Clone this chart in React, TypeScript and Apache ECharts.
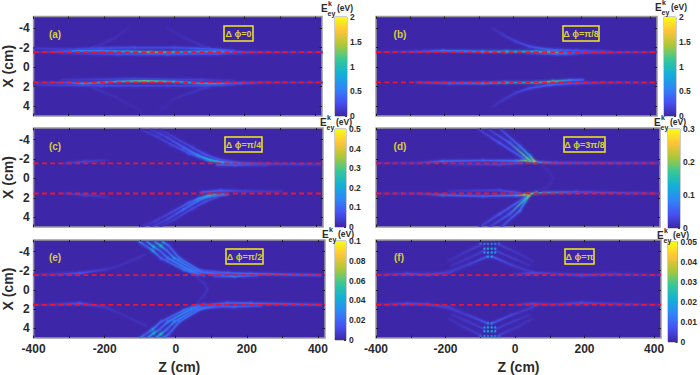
import React, { useEffect, useRef } from "react";
import * as echarts from "echarts";

const zTicks = [-400, -300, -200, -100, 0, 100, 200, 300, 400];
const zLabels = [-400, -200, 0, 200, 400];
const xTicks = [-4, -2, 0, 2, 4];
const redLine = [-1.55, 1.55];
const parula = ["#3e26a8", "#4752f4", "#2e87f7", "#12b1d6", "#37c897", "#abc739", "#fec338", "#f9fb14"];

const barTicksA = [0, 0.5, 1, 1.5, 2];
const barTicksB = [0, 0.5, 1, 1.5, 2];
const barTicksC = [0, 0.1, 0.2, 0.3, 0.4, 0.5];
const barTicksD = [0, 0.1, 0.2, 0.3];
const barTicksE = [0, 0.02, 0.04, 0.06, 0.08, 0.1];
const barTicksF = [0, 0.01, 0.02, 0.03, 0.04, 0.05];

// each streak: [Z, X, energy]
const streaksA = [
  [[-400,-1.55,.08],[-330,-1.6,.25],[-273,-1.68,.6],[-207,-1.68,.5],[-132,-1.6,.8],[-66,-1.54,1.2],[0,-1.54,.9],[76,-1.6,.65],[132,-1.62,.75],[188,-1.52,.3],[264,-1.52,.14],[420,-1.52,.1]],
  [[-400,-1.95,.12],[-300,-1.8,.16],[-226,-1.95,.24],[-113,-2,.24],[0,-2,.24],[95,-1.88,.32],[170,-1.68,.25]],
  [[-320,-1.43,.1],[-160,-1.33,.25],[-19,-1.33,.3],[122,-1.37,.25],[188,-1.43,.1]],
  [[-226,-2,.1],[-170,-3,.05],[-130,-4,.025]],
  [[95,-1.95,.12],[30,-3,.05],[-20,-4,.025]],
  [[-400,1.6,.1],[-300,1.57,.3],[-260,1.67,.7],[-160,1.47,.8],[-85,1.4,1.25],[0,1.47,.9],[76,1.64,.75],[132,1.71,.7],[188,1.64,.3],[264,1.57,.14],[420,1.57,.1]],
  [[-400,1.8,.12],[-207,1.9,.24],[-19,1.9,.2],[95,1.9,.24],[170,1.71,.16]],
  [[-320,1.3,.1],[-113,1.2,.2],[76,1.3,.16],[170,1.4,.08]],
  [[-235,2,.1],[-170,3,.05],[-95,4.5,.025]],
  [[95,2,.12],[0,3.2,.05],[-40,4.5,.025]],
];
const streaksB = [
  [[-400,-1.55,.05],[-282,-1.6,.2],[-204,-1.68,.45],[-88,-1.6,.6],[-20,-1.6,.8],[68,-1.6,.9],[117,-1.54,1.15],[155,-1.44,.6],[204,-1.5,.25],[418,-1.54,.12]],
  [[-59,-4,.06],[-29,-3.3,.12],[9,-2.63,.18],[48,-2.12,.24],[107,-1.78,.42],[185,-1.71,.28],[282,-1.6,.14]],
  [[39,-1.44,.16],[126,-1.37,.36],[185,-1.37,.16]],
  [[-282,1.57,.2],[-185,1.64,.35],[-88,1.64,.5],[-20,1.57,.7],[68,1.57,.85],[117,1.47,1.15],[165,1.33,.5],[204,1.3,.3]],
  [[-59,4.03,.06],[-29,3.35,.11],[9,2.6,.16],[48,2.15,.24],[107,1.81,.35],[185,1.64,.28],[303,1.57,.14],[418,1.64,.08]],
];
const streaksC = [
  [[-95,-5,.02],[-75,-4.7,.03],[-55,-4.4,.035],[-10,-3.5,.05],[40,-2.6,.07],[90,-1.95,.11],[130,-1.65,.15]],
  [[-67,-5,.03],[-45,-4.65,.04],[-20,-4.2,.05],[25,-3.2,.09],[65,-2.4,.14],[100,-1.9,.22],[135,-1.68,.18],[175,-1.6,.1]],
  [[-43,-5,.02],[-20,-4.6,.03],[0,-4.2,.035],[50,-3.2,.055],[85,-2.5,.07],[120,-2,.07],[165,-1.7,.06]],
  [[175,-1.6,.1],[260,-1.5,.05],[410,-1.45,.03]],
  [[120,-1.42,.1],[170,-1.4,.08],[260,-1.42,.04]],
  [[-310,-1.6,.03],[-254,-1.75,.05],[-190,-1.88,.02]],
  [[-95,5,.02],[-55,4.4,.035],[-10,3.5,.05],[40,2.5,.08],[70,2.05,.13],[100,1.7,.24],[140,1.6,.12]],
  [[-67,5,.03],[-20,4.2,.05],[25,3.2,.09],[65,2.3,.12],[95,1.85,.16],[150,1.65,.1]],
  [[-43,5,.02],[0,4.2,.035],[50,3.1,.055],[85,2.4,.06],[120,1.9,.06]],
  [[75,1.42,.08],[130,1.25,.08],[200,1.3,.04],[300,1.35,.025]],
  [[-310,1.55,.03],[-254,1.7,.045],[-190,1.9,.015]],
];
const streaksD = [
  [[-400,-1.6,.012],[-280,-1.6,.018],[-207,-1.78,.06],[-91,-1.85,.05],[5,-1.81,.07],[34,-1.88,.2],[63,-1.68,.1],[121,-1.6,.04],[418,-1.6,.022]],
  [[-190,-1.44,.012],[-43,-1.44,.03],[24,-1.6,.04]],
  [[-101,-5,.02],[-43,-3.66,.04],[24,-2.12,.05],[40,-1.85,.09]],
  [[-72,-5,.02],[-14,-3.66,.05],[44,-1.88,.18]],
  [[-38,-5,.03],[15,-3.32,.06],[45,-2.3,.11],[58,-1.72,.24]],
  [[63,-1.6,.006],[90,-1,.007],[104,-.5,.007],[111,0,.007],[104,.5,.007],[90,1,.007],[63,1.55,.006]],
  [[-400,1.55,.012],[-280,1.55,.018],[-207,1.71,.06],[-91,1.81,.05],[5,1.74,.08],[34,1.67,.22],[63,1.47,.12],[178,1.4,.04],[418,1.55,.022]],
  [[-190,1.3,.012],[-43,1.23,.03],[15,1.47,.04]],
  [[-101,5,.02],[-43,3.66,.04],[24,2.12,.05],[34,1.75,.09]],
  [[-72,5,.02],[-14,3.66,.05],[40,1.8,.17]],
  [[-38,5,.03],[15,3.32,.06],[30,2.4,.09],[42,1.75,.2]],
];
const streaksE = [
  [[-101,-5,.03],[-85,-4.6,.012],[-65,-4.1,.03],[-41,-3.3,.016],[24,-2.1,.022],[62,-1.55,.016]],
  [[-80,-5,.025],[-62,-4.5,.042],[-45,-4.1,.016],[-22,-3.3,.025],[43,-2,.028],[80,-1.5,.016]],
  [[-58,-5,.025],[-42,-4.6,.045],[-25,-4.1,.018],[-4,-3.3,.028],[57,-2,.022],[108,-1.65,.016]],
  [[-36,-5,.035],[-20,-4.6,.016],[10,-3.3,.022],[71,-1.95,.022],[146,-1.54,.016]],
  [[71,-2,.012],[146,-1.78,.018],[211,-1.68,.02],[407,-1.54,.016]],
  [[108,-1.44,.012],[165,-1.44,.024],[230,-1.5,.012]],
  [[-400,-1.6,.004],[-330,-1.65,.008],[-270,-1.75,.014],[-200,-2.1,.006],[-160,-2.5,.003],[-85,-3.7,.004]],
  [[62,-1.25,.003],[80,-.7,.004],[90,-.1,.004],[80,.6,.004],[62,1.25,.003]],
  [[-101,5,.03],[-85,4.6,.012],[-65,4.1,.03],[-41,3.3,.016],[24,2.1,.022],[62,1.55,.016]],
  [[-80,5,.025],[-62,4.5,.042],[-45,4.1,.016],[-22,3.3,.025],[43,2,.028],[80,1.5,.016]],
  [[-58,5,.025],[-42,4.6,.045],[-25,4.1,.018],[-4,3.3,.028],[57,2,.022],[108,1.65,.016]],
  [[-36,5,.035],[-20,4.6,.016],[10,3.3,.022],[71,1.95,.022],[146,1.54,.016]],
  [[71,1.6,.012],[146,1.35,.018],[211,1.4,.02],[407,1.54,.016]],
  [[108,1.75,.012],[165,1.75,.018],[240,1.65,.012]],
  [[-400,1.55,.004],[-330,1.5,.008],[-270,1.4,.014],[-200,1.75,.006],[-160,2.4,.003],[-85,3.7,.004]],
];
const streaksF = [
  [[-400,-1.6,.002],[-310,-1.68,.006],[-250,-1.6,.006],[-190,-1.8,.004],[-150,-2.4,.002]],
  [[-78,-3.5,.008],[-130,-2.7,.004],[-190,-1.9,.003],[-210,-1.65,.004]],
  [[-88,-4.1,.004],[-140,-3.2,.003],[-180,-2.6,.002]],
  [[-99,-4.7,.004],[-150,-3.8,.0025],[-190,-3,.0015]],
  [[-67,-3.5,.008],[-10,-2.6,.004],[45,-1.9,.003],[60,-1.6,.004]],
  [[-57,-4.1,.004],[0,-3.2,.003],[40,-2.6,.002]],
  [[-46,-4.7,.004],[10,-3.8,.0025],[50,-3,.0015]],
  [[-10,-1.6,.0015],[50,-1.78,.006],[115,-1.68,.004],[190,-1.54,.006],[290,-1.65,.004],[418,-1.55,.0025]],
  [[-400,1.5,.002],[-310,1.42,.006],[-250,1.5,.006],[-190,1.8,.004],[-150,2.4,.002]],
  [[-78,3.5,.008],[-130,2.7,.004],[-190,1.9,.003],[-210,1.65,.004]],
  [[-88,4.1,.004],[-140,3.2,.003],[-180,2.6,.002]],
  [[-99,4.7,.004],[-150,3.8,.0025],[-190,3,.0015]],
  [[-67,3.5,.008],[-10,2.6,.004],[45,1.9,.003],[60,1.6,.004]],
  [[-57,4.1,.004],[0,3.2,.003],[40,2.6,.002]],
  [[-46,4.7,.004],[10,3.8,.0025],[50,3,.0015]],
  [[-10,1.55,.0015],[50,1.45,.006],[115,1.5,.004],[190,1.35,.006],[290,1.45,.004],[418,1.55,.0025]],
  [[-99,-4.8,.014]],[[-88,-4.8,.018]],[[-78,-4.8,.018]],[[-67,-4.8,.018]],[[-57,-4.8,.018]],[[-46,-4.8,.014]],
  [[-88,-4.3,.018]],[[-78,-4.3,.022]],[[-67,-4.3,.022]],[[-57,-4.3,.018]],
  [[-88,-3.9,.016]],[[-78,-3.9,.02]],[[-67,-3.9,.02]],[[-57,-3.9,.016]],
  [[-78,-3.45,.02]],[[-67,-3.45,.02]],
  [[-99,4.8,.014]],[[-88,4.8,.018]],[[-78,4.8,.018]],[[-67,4.8,.018]],[[-57,4.8,.018]],[[-46,4.8,.014]],
  [[-88,4.3,.018]],[[-78,4.3,.022]],[[-67,4.3,.022]],[[-57,4.3,.018]],
  [[-88,3.9,.016]],[[-78,3.9,.02]],[[-67,3.9,.02]],[[-57,3.9,.016]],
  [[-78,3.45,.02]],[[-67,3.45,.02]],
];

const panels = [
  { tag: "(a)", phi: "Δ ϕ=0", vmax: 2, ticks: barTicksA, streaks: streaksA, g: [32, 16.5, 290, 99.5], bar: [335, 17, 12, 99], box: [224, 26, 29, 15], tagPos: [55, 34], e: [321, 8] },
  { tag: "(b)", phi: "Δ ϕ=π/8", vmax: 2, ticks: barTicksB, streaks: streaksB, g: [376, 16.5, 281, 99.5], bar: [664, 17, 12, 99], box: [563, 26, 36, 15], tagPos: [400, 34], e: [655, 7] },
  { tag: "(c)", phi: "Δ ϕ=π/4", vmax: 0.5, ticks: barTicksC, streaks: streaksC, g: [32, 128, 291, 99], bar: [335, 129, 11, 98], box: [225, 137, 37, 15], tagPos: [55, 146], e: [320, 122] },
  { tag: "(d)", phi: "Δ ϕ=3π/8", vmax: 0.3, ticks: barTicksD, streaks: streaksD, g: [376, 128, 284, 99], bar: [668, 129, 12, 99], box: [564, 137, 41, 15], tagPos: [400, 146], e: [654, 122] },
  { tag: "(e)", phi: "Δ ϕ=π/2", vmax: 0.1, ticks: barTicksE, streaks: streaksE, g: [32, 240, 293, 99], bar: [335, 241, 11, 99], box: [226, 249, 37, 15], tagPos: [55, 257], e: [322, 234] },
  { tag: "(f)", phi: "Δ ϕ=π", vmax: 0.05, ticks: barTicksF, streaks: streaksF, g: [376, 240, 285, 100], bar: [668, 242, 13, 100], box: [565, 249, 29, 15], tagPos: [399, 257], e: [657, 235] },
];

const FONT = "'Liberation Sans', Arial, sans-serif";
const INK = "#2b2b2b";
const GOLD = "#d8cf3c";

function ramp(t: number) {
  const c = Math.max(0, Math.min(1, t)) * (parula.length - 1);
  const i = Math.min(parula.length - 2, Math.floor(c));
  const f = c - i;
  const hex = (s: string, k: number) => parseInt(s.slice(1 + 2 * k, 3 + 2 * k), 16);
  const ch = [0, 1, 2].map((k) => Math.round(hex(parula[i], k) * (1 - f) + hex(parula[i + 1], k) * f));
  return `rgb(${ch[0]},${ch[1]},${ch[2]})`;
}

function segments(streaks: number[][][]) {
  const out: number[][] = [];
  for (const s of streaks) {
    if (s.length === 1) out.push([s[0][0], s[0][1], s[0][0], s[0][1], s[0][2], s[0][2]]);
    for (let i = 0; i + 1 < s.length; i++) out.push([s[i][0], s[i][1], s[i + 1][0], s[i + 1][1], s[i][2], s[i + 1][2]]);
  }
  return out;
}

function buildOption() {
  const grid: any[] = [];
  const xAxis: any[] = [];
  const yAxis: any[] = [];
  const series: any[] = [];
  const graphic: any[] = [];
  const zRange = { min: -400, max: 420 };
  const xRange = { min: -5.2, max: 5 };
  const noLine = { show: false, onZero: false };

  panels.forEach((p, idx) => {
    const gi = grid.length;
    const [l, t, w, h] = p.g;
    grid.push({ left: l, top: t, width: w, height: h, show: true, backgroundColor: parula[0], borderColor: "#9a9a9a", borderWidth: 1.5, containLabel: false });
    const bottomRow = idx >= 4;
    const leftCol = idx % 2 === 0;
    const tick = (vals: number[]) => ({ show: true, inside: true, length: 2.5, customValues: vals, lineStyle: { color: "#222", width: 1 } });
    const lab = { fontFamily: FONT, fontWeight: "bold" as const, fontSize: 12, color: INK };
    const xi = xAxis.length;
    xAxis.push({
      type: "value", gridIndex: gi, position: "bottom", ...zRange, axisLine: noLine, splitLine: { show: false }, axisTick: tick(zTicks),
      axisLabel: bottomRow ? { ...lab, show: true, margin: 5, customValues: zLabels } : { show: false },
      ...(bottomRow ? { name: "Z (cm)", nameLocation: "middle", nameGap: 22, nameTextStyle: { fontFamily: FONT, fontWeight: "bold", fontSize: 14, color: INK } } : {}),
    });
    xAxis.push({ type: "value", gridIndex: gi, position: "top", ...zRange, axisLine: noLine, splitLine: { show: false }, axisTick: tick(zTicks), axisLabel: { show: false } });
    const yi = yAxis.length;
    yAxis.push({
      type: "value", gridIndex: gi, position: "left", inverse: true, ...xRange, axisLine: noLine, splitLine: { show: false }, axisTick: tick(xTicks),
      axisLabel: leftCol ? { ...lab, show: true, margin: 4, customValues: xTicks } : { show: false },
      ...(leftCol ? { name: "X (cm)", nameLocation: "middle", nameGap: 17, nameTextStyle: { fontFamily: FONT, fontWeight: "bold", fontSize: 14, color: INK } } : {}),
    });
    yAxis.push({ type: "value", gridIndex: gi, position: "right", inverse: true, ...xRange, axisLine: noLine, splitLine: { show: false }, axisTick: tick(xTicks), axisLabel: { show: false } });

    const data = segments(p.streaks);
    const passes = [
      { w: 6, o: 0.1, r: 1.6 },
      { w: 3.6, o: 0.22, r: 1.6 },
      { w: 2.2, o: 0.5, r: 1.2 },
      { w: 1.1, o: 0.85, r: 0.8 },
    ];
    passes.forEach((pass, pi) => {
      series.push({
        type: "custom",
        name: `streak-${p.tag}-${pi}`,
        coordinateSystem: "cartesian2d",
        xAxisIndex: xi,
        yAxisIndex: yi,
        clip: true,
        silent: true,
        z: 2 + pi,
        data,
        dimensions: ["z1", "x1", "z2", "x2", "v1", "v2"],
        encode: { x: [0, 2], y: [1, 3] },
        renderItem: (_: any, api: any) => {
          const a = api.coord([api.value(0), api.value(1)]);
          const b = api.coord([api.value(2), api.value(3)]);
          const v1 = api.value(4) / p.vmax;
          const v2 = api.value(5) / p.vmax;
          if (a[0] === b[0] && a[1] === b[1]) {
            return { type: "circle", shape: { cx: a[0], cy: a[1], r: pass.r }, style: { fill: ramp(v1), opacity: pass.o } };
          }
          const stroke = new echarts.graphic.LinearGradient(a[0], a[1], b[0], b[1], [
            { offset: 0, color: ramp(v1) },
            { offset: 1, color: ramp(v2) },
          ], true);
          return { type: "line", shape: { x1: a[0], y1: a[1], x2: b[0], y2: b[1] }, style: { stroke, lineWidth: pass.w, lineCap: "round", opacity: pass.o, fill: null } };
        },
      });
    });
    redLine.forEach((x) => {
      series.push({
        type: "line", xAxisIndex: xi, yAxisIndex: yi, silent: true, z: 8, symbol: "none",
        data: [[zRange.min, x], [zRange.max, x]],
        lineStyle: { color: "#ee1530", width: 1.8, type: [5, 3.3] },
      });
    });

    // colour bar
    const bi = grid.length;
    const [bl, bt, bw, bh] = p.bar;
    grid.push({ left: bl, top: bt, width: bw, height: bh, show: true, backgroundColor: "transparent", borderColor: "#9a9a9a", borderWidth: 1, containLabel: false });
    const bxi = xAxis.length;
    xAxis.push({ type: "category", gridIndex: bi, data: ["E"], show: false });
    const byi = yAxis.length;
    yAxis.push({
      type: "value", gridIndex: bi, position: "right", min: 0, max: p.vmax, axisLine: noLine, splitLine: { show: false },
      axisTick: { show: true, inside: true, length: 2, customValues: p.ticks, lineStyle: { color: "#333" } },
      axisLabel: { show: true, inside: false, margin: 3, customValues: p.ticks, fontFamily: FONT, fontWeight: "bold", fontSize: 8.5, color: INK },
    });
    series.push({
      type: "bar", xAxisIndex: bxi, yAxisIndex: byi, barWidth: "100%", silent: true, data: [p.vmax],
      itemStyle: { color: new echarts.graphic.LinearGradient(0, 1, 0, 0, parula.map((c, i) => ({ offset: i / (parula.length - 1), color: c }))) },
    });

    // annotations
    graphic.push({ type: "text", z: 20, style: { x: p.tagPos[0], y: p.tagPos[1], text: p.tag, fill: GOLD, font: `bold 10px ${FONT}`, textAlign: "center", textVerticalAlign: "middle" } });
    const [rx, ry, rw, rh] = p.box;
    graphic.push({ type: "rect", z: 20, shape: { x: rx, y: ry, width: rw, height: rh }, style: { fill: "transparent", stroke: "#f4ea1c", lineWidth: 1.5 } });
    graphic.push({ type: "text", z: 21, style: { x: rx + rw / 2, y: ry + rh / 2, text: p.phi, fill: GOLD, font: `bold 9px ${FONT}`, textAlign: "center", textVerticalAlign: "middle" } });
    const [ex, ey] = p.e;
    graphic.push({ type: "text", z: 21, style: { x: ex, y: ey, text: "E", fill: INK, font: `bold 10px ${FONT}`, textVerticalAlign: "middle" } });
    graphic.push({ type: "text", z: 21, style: { x: ex + 7, y: ey - 4.5, text: "k", fill: INK, font: `bold 7px ${FONT}`, textVerticalAlign: "middle" } });
    graphic.push({ type: "text", z: 21, style: { x: ex + 6.5, y: ey + 5, text: "ey", fill: INK, font: `bold 7px ${FONT}`, textVerticalAlign: "middle" } });
    graphic.push({ type: "text", z: 21, style: { x: ex + 16, y: ey, text: "(eV)", fill: INK, font: `bold 8.5px ${FONT}`, textVerticalAlign: "middle" } });
  });

  return { animation: false, backgroundColor: "#fff", tooltip: { show: false }, grid, xAxis, yAxis, series, graphic };
}

export default function App() {
  const ref = useRef<HTMLDivElement>(null);
  useEffect(() => {
    document.body.style.margin = "0";
    const chart = echarts.init(ref.current!, undefined, { renderer: "svg" });
    chart.setOption(buildOption() as any);
    return () => chart.dispose();
  }, []);
  return <div ref={ref} style={{ position: "fixed", left: 0, top: 0, width: 700, height: 375 }} />;
}
